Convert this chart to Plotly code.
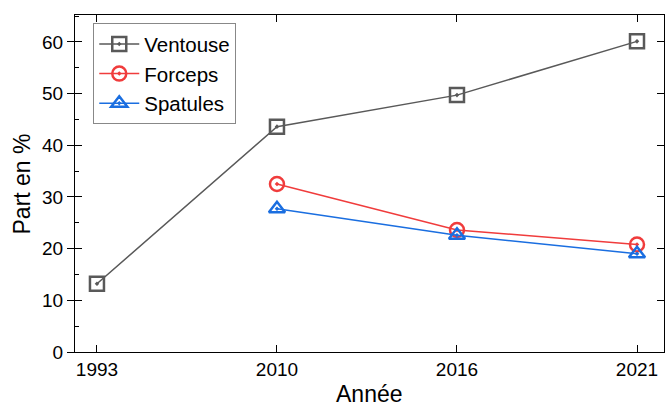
import plotly.graph_objects as go

years = ["1993", "2010", "2016", "2021"]
ventouse = [13.2, 43.6, 49.7, 60.1]
forceps = [None, 32.5, 23.6, 20.8]
spatules = [None, 27.7, 22.6, 19.0]
yticks = [0, 10, 20, 30, 40, 50, 60]

xpos = list(range(len(years)))

font = "Liberation Sans, Arial, sans-serif"

fig = go.Figure()

def add(name, vals, color, symbol):
    xs = [x for x, v in zip(xpos, vals) if v is not None]
    ys = [v for v in vals if v is not None]
    fig.add_trace(go.Scatter(
        x=xs, y=ys, name=name, mode="lines+markers",
        line=dict(color=color, width=1.5),
        marker=dict(symbol=symbol, size=14, color=color,
                    line=dict(color=color, width=2.5)),
    ))

add("Ventouse", ventouse, "#595959", "square-open-dot")
add("Forceps", forceps, "#f03c3c", "circle-open-dot")
add("Spatules", spatules, "#1a6ee0", "triangle-up-open-dot")

fig.add_trace(go.Scatter(x=[0], y=[0], yaxis="y2", mode="markers",
                         marker=dict(opacity=0), showlegend=False, hoverinfo="skip"))

yr = [0, 65.2]
fig.update_layout(
    width=665, height=408,
    margin=dict(l=75, r=1, t=15, b=56, autoexpand=False),
    paper_bgcolor="white", plot_bgcolor="white",
    font=dict(family=font, size=19, color="black"),
    showlegend=True,
    legend=dict(x=0.031, y=0.976, xanchor="left", yanchor="top",
                bordercolor="#888888", borderwidth=1, bgcolor="white",
                font=dict(size=20.5, family=font), tracegroupgap=0,
                itemwidth=40),
    xaxis=dict(
        range=[-0.122, 3.15], tickmode="array", tickvals=xpos, ticktext=years,
        showline=True, linecolor="black", linewidth=1.2, mirror="ticks",
        ticks="inside", ticklen=7, tickcolor="black", tickwidth=1,
        showgrid=False, zeroline=False, automargin=False,
        tickfont=dict(size=19),
    ),
    yaxis=dict(
        range=yr, tickmode="array", tickvals=yticks,
        showline=True, linecolor="black", linewidth=1.2, mirror=True,
        ticks="outside", ticklen=7, tickcolor="black", tickwidth=1,
        showgrid=False, zeroline=False, automargin=False,
        minor=dict(tickvals=[5, 15, 25, 35, 45, 55, 65], ticks="inside",
                   ticklen=4, tickcolor="black"),
        tickfont=dict(size=19),
    ),
    yaxis2=dict(
        range=yr, overlaying="y", side="left", tickmode="array", tickvals=yticks,
        showticklabels=False, ticks="inside", ticklen=7, tickcolor="black",
        mirror="ticks", showline=False, showgrid=False, zeroline=False,
        automargin=False,
    ),
    annotations=[
        dict(text="Année", xref="paper", yref="paper", x=0.5, y=-0.125,
             xanchor="center", yanchor="middle", showarrow=False,
             font=dict(size=23, family=font)),
        dict(text="Part en %", xref="paper", yref="paper", x=-0.09, y=0.5,
             xanchor="center", yanchor="middle", textangle=-90, showarrow=False,
             font=dict(size=23, family=font)),
    ],
)

fig.write_html("out.html", config={"displayModeBar": False},
               post_script="document.body.style.margin='0';document.body.style.overflow='hidden';")
